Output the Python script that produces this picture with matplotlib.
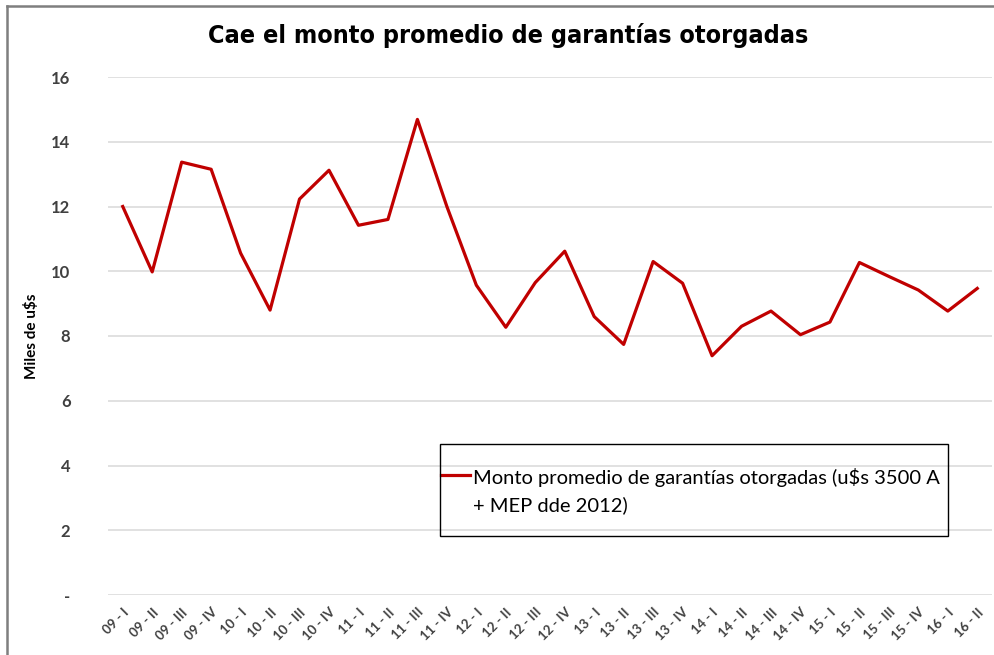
import matplotlib
matplotlib.use("Agg")
import matplotlib.pyplot as plt
from matplotlib.lines import Line2D
from matplotlib.patches import Rectangle

# data
periods = ["09 - I", "09 - II", "09 - III", "09 - IV",
           "10 - I", "10 - II", "10 - III", "10 - IV",
           "11 - I", "11 - II", "11 - III", "11 - IV",
           "12 - I", "12 - II", "12 - III", "12 - IV",
           "13 - I", "13 - II", "13 - III", "13 - IV",
           "14 - I", "14 - II", "14 - III", "14 - IV",
           "15 - I", "15 - II", "15 - III", "15 - IV",
           "16 - I", "16 - II"]
monto = [12.0, 9.98, 13.37, 13.15,
         10.56, 8.8, 12.23, 13.12,
         11.42, 11.6, 14.69, 12.0,
         9.57, 8.27, 9.65, 10.62,
         8.6, 7.74, 10.3, 9.63,
         7.39, 8.3, 8.77, 8.04,
         8.43, 10.27, 9.84, 9.42,
         8.77, 9.47]
y_ticks = [0, 2, 4, 6, 8, 10, 12, 14, 16]
y_labels = ["-", "2", "4", "6", "8", "10", "12", "14", "16"]

title = "Cae el monto promedio de garantías otorgadas"
serie = "Monto promedio de garantías otorgadas (u$s 3500 A\n+ MEP dde 2012)"

plt.rcParams["font.family"] = ["Lato", "DejaVu Sans"]

fig = plt.figure(figsize=(9.95, 6.55), dpi=100)
ax = fig.add_axes([108 / 995, 1 - 595 / 655, (992 - 108) / 995, (595 - 77) / 655])

x = list(range(len(periods)))
line, = ax.plot(x, monto, color="#C00000", linewidth=2.3)

ax.set_xlim(-0.5, len(periods) - 0.5)
ax.set_ylim(0, 16)
ax.set_yticks(y_ticks)
ax.set_yticklabels(y_labels, fontsize=12, fontweight="bold", color="#404040")
ax.set_xticks(x)
ax.set_xticklabels(periods, rotation=45, ha="right", va="top",
                   rotation_mode="anchor", fontsize=9.5,
                   fontweight="bold", color="#404040")
ax.tick_params(axis="y", length=0, pad=27)
ax.tick_params(axis="x", length=0, pad=8)
ax.grid(axis="y", color="#D9D9D9", linewidth=1.1)
ax.set_axisbelow(True)
for s in ax.spines.values():
    s.set_visible(False)

ax.set_ylabel("Miles de u$s", fontsize=11, fontweight="bold", color="black", labelpad=9)

fig.text(0.511, 0.946, title, ha="center", va="center",
         family=["DejaVu Sans"], fontstretch="condensed",
         fontsize=18, fontweight="bold", color="black")

leg = ax.legend([line], [serie], loc="upper left",
                bbox_to_anchor=(441 / 995, 1 - 468 / 655), bbox_transform=fig.transFigure,
                fontsize=14.5, frameon=False, handlelength=1.45,
                handletextpad=0.12, borderpad=0, borderaxespad=0)
for t in leg.get_texts():
    t.set_linespacing(1.6)
# put the line sample next to the first text line, like Excel does
for col in leg._legend_handle_box.get_children():
    for entry in col.get_children():
        entry.align = "top"

# legend box
fig.add_artist(Rectangle((440 / 995, 1 - 536 / 655), 508 / 995, 92 / 655,
                         transform=fig.transFigure, fill=False,
                         edgecolor="black", linewidth=1.0))

# chart area border (top and left edges visible)
fig.add_artist(Line2D([7 / 995, 7 / 995], [0, 1 - 6 / 655],
                      transform=fig.transFigure, color="#7F7F7F", linewidth=1.8))
fig.add_artist(Line2D([7 / 995, 1], [1 - 6 / 655, 1 - 6 / 655],
                      transform=fig.transFigure, color="#7F7F7F", linewidth=1.8))

fig.savefig("out.png", dpi=100)
